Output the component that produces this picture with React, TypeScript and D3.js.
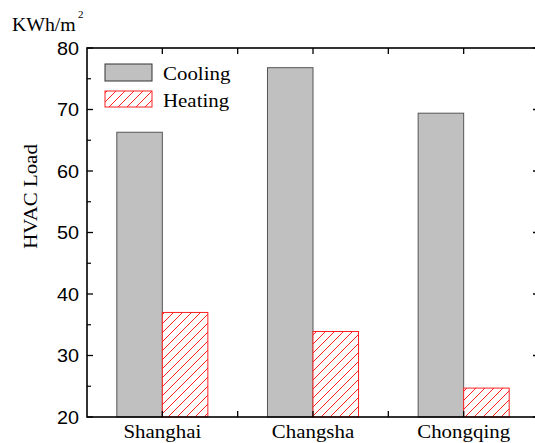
import * as d3 from 'd3';

const cities = ['Shanghai', 'Changsha', 'Chongqing'];
const cooling = [66.3, 76.8, 69.4];
const heating = [37.0, 33.9, 24.7];
const seriesNames = ['Cooling', 'Heating'];
const yTicks = [20, 30, 40, 50, 60, 70, 80];

const W = 535;
const H = 443;
const left = 87;
const right = 539;
const top = 48;
const bottom = 417;

// text in the reference is slightly stretched horizontally
function Label({ x, y, anchor, family, size, children, rotate = 0 }: any) {
    return (
        <g transform={`translate(${x},${y}) rotate(${rotate}) scale(1.1,1)`}>
            <text textAnchor={anchor} fontFamily={family} fontSize={size} fill="#000">
                {children}
            </text>
        </g>
    );
}

export default function App() {
    const x = d3.scaleBand().domain(cities).range([left, right]);
    const sub = d3.scaleBand().domain(seriesNames).range([0, x.bandwidth()]).paddingInner(0).paddingOuter(0.655);
    const y = d3.scaleLinear().domain([20, 80]).range([bottom, top]);

    const minor = d3.range(25, 80, 10);
    // ticks at every half band on top/bottom
    const xTicks = d3.range(1, cities.length * 2).map((i) => left + (x.bandwidth() / 2) * i);

    const serif = '"Liberation Serif", "Times New Roman", serif';
    const sans = '"Liberation Sans", Arial, sans-serif';

    return (
        <svg width={W} height={H} style={{ position: 'absolute', left: 0, top: 0, background: '#fff' }}>
            <defs>
                <pattern id="hatch" patternUnits="userSpaceOnUse" width={9} height={9}>
                    <rect width={9} height={9} fill="#fff" />
                    <path d="M0,9 L9,0 M-1,1 L1,-1 M8,10 L10,8" stroke="#ff2020" strokeWidth={1} />
                </pattern>
            </defs>

            {/* bars */}
            {cities.map((c, i) => (
                <g key={c}>
                    <rect
                        x={(x(c) ?? 0) + (sub('Cooling') ?? 0)}
                        y={y(cooling[i])}
                        width={sub.bandwidth()}
                        height={bottom - y(cooling[i])}
                        fill="#c0c0c0"
                        stroke="#555"
                        strokeWidth={1}
                    />
                    <rect
                        x={(x(c) ?? 0) + (sub('Heating') ?? 0)}
                        y={y(heating[i])}
                        width={sub.bandwidth()}
                        height={bottom - y(heating[i])}
                        fill="url(#hatch)"
                        stroke="#ff2020"
                        strokeWidth={1}
                    />
                </g>
            ))}

            {/* frame */}
            <rect x={left} y={top} width={right - left} height={bottom - top} fill="none" stroke="#000" strokeWidth={1.6} />

            {/* y ticks, left and right */}
            {yTicks.map((t) => (
                <g key={t}>
                    <line x1={left} x2={left + 6} y1={y(t)} y2={y(t)} stroke="#000" strokeWidth={1.3} />
                    <line x1={right} x2={right - 6} y1={y(t)} y2={y(t)} stroke="#000" strokeWidth={1.3} />
                    <Label x={79} y={y(t) + 6.5} anchor="end" family={sans} size={18}>
                        {t}
                    </Label>
                </g>
            ))}
            {minor.map((t) => (
                <g key={t}>
                    <line x1={left} x2={left + 4} y1={y(t)} y2={y(t)} stroke="#000" strokeWidth={1.2} />
                    <line x1={right} x2={right - 4} y1={y(t)} y2={y(t)} stroke="#000" strokeWidth={1.2} />
                </g>
            ))}

            {/* x ticks, bottom and top */}
            {xTicks.map((t, i) => (
                <g key={i}>
                    <line x1={t} x2={t} y1={bottom} y2={bottom - 6} stroke="#000" strokeWidth={1.3} />
                    <line x1={t} x2={t} y1={top} y2={top + 6} stroke="#000" strokeWidth={1.3} />
                </g>
            ))}

            {/* category labels */}
            {cities.map((c) => (
                <Label key={c} x={(x(c) ?? 0) + x.bandwidth() / 2} y={438} anchor="middle" family={serif} size={19}>
                    {c}
                </Label>
            ))}

            {/* axis titles */}
            <Label x={37} y={196.5} anchor="middle" family={serif} size={19} rotate={-90}>
                HVAC Load
            </Label>
            <Label x={12} y={31} anchor="start" family={serif} size={18}>
                KWh/m
            </Label>
            <text x={78} y={18} fontFamily={serif} fontSize={11} fill="#000">
                2
            </text>

            {/* legend */}
            <rect x={105} y={64} width={47} height={17} fill="#c0c0c0" stroke="#333" strokeWidth={1} />
            <rect x={105} y={91} width={47} height={16} fill="url(#hatch)" stroke="#ff2020" strokeWidth={1} />
            <Label x={163} y={80} anchor="start" family={serif} size={19}>
                {seriesNames[0]}
            </Label>
            <Label x={163} y={106.5} anchor="start" family={serif} size={19}>
                {seriesNames[1]}
            </Label>
        </svg>
    );
}
